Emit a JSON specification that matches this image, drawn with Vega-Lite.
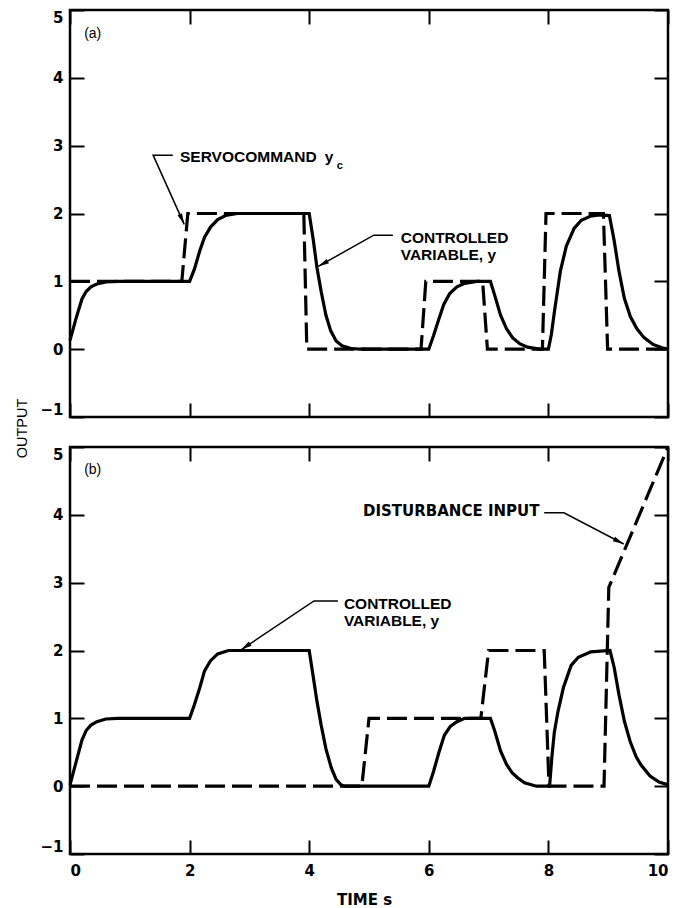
{
  "$schema": "https://vega.github.io/schema/vega-lite/v6.json",
  "background": "white",
  "padding": {"left": 12, "top": 7, "right": 10, "bottom": 5},
  "bounds": "flush",
  "spacing": 30,
  "config": {
    "font": "Liberation Sans",
    "view": {"stroke": "black", "strokeWidth": 2.5},
    "axis": {
      "domain": false, "grid": false,
      "tickColor": "black", "tickWidth": 2, "tickSize": -14,
      "labelColor": "black", "labelFont": "DejaVu Sans", "labelFontSize": 15, "labelFontWeight": "bold",
      "titleColor": "black", "titleFont": "Liberation Sans"
    }
  },
  "datasets": {
    "a_servo": [
      {"t": 0, "v": 1}, {"t": 1.87, "v": 1}, {"t": 1.97, "v": 2}, {"t": 3.91, "v": 2}, {"t": 3.96, "v": 0},
      {"t": 5.87, "v": 0}, {"t": 5.95, "v": 1}, {"t": 6.9, "v": 1}, {"t": 6.98, "v": 0},
      {"t": 7.9, "v": 0}, {"t": 7.96, "v": 2}, {"t": 8.92, "v": 2}, {"t": 8.99, "v": 0}, {"t": 10, "v": 0}
    ],
    "a_ctrl": [
      {"t": 0, "v": 0.13}, {"t": 0.1, "v": 0.45}, {"t": 0.2, "v": 0.74}, {"t": 0.27, "v": 0.85}, {"t": 0.35, "v": 0.92},
      {"t": 0.45, "v": 0.96}, {"t": 0.6, "v": 0.99}, {"t": 0.8, "v": 1.0}, {"t": 2.0, "v": 1.0},
      {"t": 2.08, "v": 1.18}, {"t": 2.17, "v": 1.45}, {"t": 2.25, "v": 1.65}, {"t": 2.35, "v": 1.8}, {"t": 2.47, "v": 1.91},
      {"t": 2.6, "v": 1.97}, {"t": 2.8, "v": 2.0}, {"t": 4.0, "v": 2.0},
      {"t": 4.07, "v": 1.6}, {"t": 4.13, "v": 1.2}, {"t": 4.2, "v": 0.85}, {"t": 4.28, "v": 0.5}, {"t": 4.36, "v": 0.27},
      {"t": 4.45, "v": 0.12}, {"t": 4.55, "v": 0.05}, {"t": 4.7, "v": 0.01}, {"t": 4.85, "v": 0}, {"t": 6.0, "v": 0},
      {"t": 6.08, "v": 0.2}, {"t": 6.17, "v": 0.45}, {"t": 6.25, "v": 0.66}, {"t": 6.35, "v": 0.82}, {"t": 6.47, "v": 0.92},
      {"t": 6.6, "v": 0.97}, {"t": 6.8, "v": 1.0}, {"t": 7.03, "v": 1.0},
      {"t": 7.1, "v": 0.8}, {"t": 7.2, "v": 0.5}, {"t": 7.3, "v": 0.3}, {"t": 7.4, "v": 0.17}, {"t": 7.52, "v": 0.08},
      {"t": 7.65, "v": 0.03}, {"t": 7.85, "v": 0}, {"t": 8.0, "v": 0},
      {"t": 8.05, "v": 0.22}, {"t": 8.1, "v": 0.55}, {"t": 8.2, "v": 1.15}, {"t": 8.3, "v": 1.52}, {"t": 8.43, "v": 1.78},
      {"t": 8.55, "v": 1.9}, {"t": 8.7, "v": 1.96}, {"t": 8.85, "v": 1.98}, {"t": 9.02, "v": 1.97},
      {"t": 9.1, "v": 1.6}, {"t": 9.18, "v": 1.15}, {"t": 9.27, "v": 0.75}, {"t": 9.37, "v": 0.48}, {"t": 9.48, "v": 0.3},
      {"t": 9.6, "v": 0.17}, {"t": 9.75, "v": 0.07}, {"t": 9.9, "v": 0.02}, {"t": 10, "v": 0}
    ],
    "b_ctrl": [
      {"t": 0, "v": 0.02}, {"t": 0.1, "v": 0.35}, {"t": 0.2, "v": 0.68}, {"t": 0.27, "v": 0.82}, {"t": 0.35, "v": 0.9},
      {"t": 0.45, "v": 0.95}, {"t": 0.6, "v": 0.99}, {"t": 0.8, "v": 1.0}, {"t": 2.0, "v": 1.0},
      {"t": 2.08, "v": 1.2}, {"t": 2.17, "v": 1.45}, {"t": 2.25, "v": 1.7}, {"t": 2.35, "v": 1.85}, {"t": 2.47, "v": 1.95},
      {"t": 2.65, "v": 2.0}, {"t": 4.0, "v": 2.0},
      {"t": 4.07, "v": 1.6}, {"t": 4.13, "v": 1.25}, {"t": 4.2, "v": 0.9}, {"t": 4.28, "v": 0.55}, {"t": 4.37, "v": 0.27},
      {"t": 4.45, "v": 0.1}, {"t": 4.53, "v": 0.02}, {"t": 4.6, "v": 0}, {"t": 6.0, "v": 0},
      {"t": 6.08, "v": 0.22}, {"t": 6.17, "v": 0.5}, {"t": 6.26, "v": 0.75}, {"t": 6.36, "v": 0.88}, {"t": 6.47, "v": 0.95},
      {"t": 6.6, "v": 1.0}, {"t": 7.03, "v": 1.0},
      {"t": 7.1, "v": 0.82}, {"t": 7.2, "v": 0.52}, {"t": 7.3, "v": 0.32}, {"t": 7.4, "v": 0.19}, {"t": 7.49, "v": 0.12},
      {"t": 7.6, "v": 0.05}, {"t": 7.8, "v": 0}, {"t": 8.02, "v": 0},
      {"t": 8.06, "v": 0.45}, {"t": 8.1, "v": 0.8}, {"t": 8.16, "v": 1.1}, {"t": 8.25, "v": 1.45}, {"t": 8.38, "v": 1.78},
      {"t": 8.5, "v": 1.9}, {"t": 8.71, "v": 1.98}, {"t": 9.03, "v": 2.0},
      {"t": 9.1, "v": 1.75}, {"t": 9.18, "v": 1.35}, {"t": 9.27, "v": 0.96}, {"t": 9.37, "v": 0.65}, {"t": 9.47, "v": 0.43},
      {"t": 9.55, "v": 0.31}, {"t": 9.7, "v": 0.15}, {"t": 9.85, "v": 0.06}, {"t": 10, "v": 0.02}
    ],
    "b_dist": [
      {"t": 0, "v": 0}, {"t": 4.88, "v": 0}, {"t": 5.0, "v": 1}, {"t": 6.87, "v": 1}, {"t": 7.0, "v": 2},
      {"t": 7.93, "v": 2}, {"t": 8.01, "v": 0}, {"t": 8.93, "v": 0}, {"t": 9.01, "v": 2.93}, {"t": 10, "v": 5.0}
    ],
    "a_lead": [
      {"id": "servo", "i": 0, "t": 1.72, "v": 2.86}, {"id": "servo", "i": 1, "t": 1.39, "v": 2.86}, {"id": "servo", "i": 2, "t": 1.91, "v": 1.84},
      {"id": "ctrl", "i": 0, "t": 5.4, "v": 1.68}, {"id": "ctrl", "i": 1, "t": 5.08, "v": 1.68}, {"id": "ctrl", "i": 2, "t": 4.15, "v": 1.22}
    ],
    "b_lead": [
      {"id": "ctrl", "i": 0, "t": 4.48, "v": 2.73}, {"id": "ctrl", "i": 1, "t": 4.08, "v": 2.73}, {"id": "ctrl", "i": 2, "t": 2.86, "v": 2.01},
      {"id": "dist", "i": 0, "t": 7.93, "v": 4.03}, {"id": "dist", "i": 1, "t": 8.26, "v": 4.03}, {"id": "dist", "i": 2, "t": 9.26, "v": 3.57}
    ],
    "a_text": [
      {"kind": "big", "t": 1.84, "v": 2.76, "label": "SERVOCOMMAND"},
      {"kind": "big", "t": 4.26, "v": 2.76, "label": "y"},
      {"kind": "sub", "t": 4.46, "v": 2.66, "label": "c"},
      {"kind": "big", "t": 5.53, "v": 1.56, "label": "CONTROLLED"},
      {"kind": "big", "t": 5.53, "v": 1.31, "label": "VARIABLE, y"},
      {"kind": "panel", "t": 0.38, "v": 4.65, "label": "(a)"}
    ],
    "b_text": [
      {"kind": "big", "t": 4.58, "v": 2.61, "label": "CONTROLLED"},
      {"kind": "big", "t": 4.58, "v": 2.36, "label": "VARIABLE, y"},
      {"kind": "wide", "t": 4.9, "v": 3.98, "label": "DISTURBANCE INPUT"},
      {"kind": "panel", "t": 0.38, "v": 4.66, "label": "(b)"}
    ]
  },
  "vconcat": [
    {
      "width": 598, "height": 407,
      "resolve": {"axis": {"x": "independent", "y": "independent"}},
      "layer": [
        {
          "data": {"name": "a_servo"},
          "mark": {"type": "line", "color": "black", "strokeWidth": 3.2, "strokeDash": [20, 7]},
          "encoding": {
            "x": {"field": "t", "type": "quantitative", "scale": {"domain": [0, 10], "nice": false},
                  "axis": {"orient": "bottom", "values": [0, 2, 4, 6, 8, 10], "labels": false, "title": null}},
            "y": {"field": "v", "type": "quantitative", "scale": {"domain": [-1, 5], "nice": false},
                  "axis": {"orient": "left", "values": [-1, 0, 1, 2, 3, 4, 5], "labelPadding": 21, "labelFlush": true,
                           "title": "OUTPUT", "titleAngle": 270, "titleX": -48, "titleY": 418,
                           "titleAlign": "center", "titleBaseline": "middle", "titleFontSize": 14.5, "titleFontWeight": "normal"}}
          }
        },
        {
          "data": {"name": "a_ctrl"},
          "mark": {"type": "line", "color": "black", "strokeWidth": 3.2},
          "encoding": {
            "x": {"field": "t", "type": "quantitative",
                  "axis": {"orient": "top", "values": [0, 2, 4, 6, 8, 10], "labels": false, "title": null}},
            "y": {"field": "v", "type": "quantitative",
                  "axis": {"orient": "right", "values": [-1, 0, 1, 2, 3, 4, 5], "labels": false, "title": null}}
          }
        },
        {
          "data": {"name": "a_lead"},
          "mark": {"type": "line", "color": "black", "strokeWidth": 1.5},
          "encoding": {
            "x": {"field": "t", "type": "quantitative", "axis": null},
            "y": {"field": "v", "type": "quantitative", "axis": null},
            "detail": {"field": "id"},
            "order": {"field": "i"}
          }
        },
        {
          "data": {"name": "a_lead"},
          "transform": [{"filter": "datum.id == 'servo' && datum.i == 2"}],
          "mark": {"type": "point", "shape": "M0,0L0.45,2L-0.45,2Z", "filled": true, "color": "black", "opacity": 1, "size": 121, "angle": 156},
          "encoding": {
            "x": {"field": "t", "type": "quantitative", "axis": null},
            "y": {"field": "v", "type": "quantitative", "axis": null}
          }
        },
        {
          "data": {"name": "a_lead"},
          "transform": [{"filter": "datum.id == 'ctrl' && datum.i == 2"}],
          "mark": {"type": "point", "shape": "M0,0L0.45,2L-0.45,2Z", "filled": true, "color": "black", "opacity": 1, "size": 121, "angle": 241},
          "encoding": {
            "x": {"field": "t", "type": "quantitative", "axis": null},
            "y": {"field": "v", "type": "quantitative", "axis": null}
          }
        },
        {
          "data": {"name": "a_text"},
          "transform": [{"filter": "datum.kind == 'big'"}],
          "mark": {"type": "text", "align": "left", "baseline": "alphabetic", "fontSize": 15.5, "fontWeight": "bold", "color": "black"},
          "encoding": {
            "x": {"field": "t", "type": "quantitative", "axis": null},
            "y": {"field": "v", "type": "quantitative", "axis": null},
            "text": {"field": "label"}
          }
        },
        {
          "data": {"name": "a_text"},
          "transform": [{"filter": "datum.kind == 'sub'"}],
          "mark": {"type": "text", "align": "left", "baseline": "alphabetic", "fontSize": 11, "fontWeight": "bold", "color": "black"},
          "encoding": {
            "x": {"field": "t", "type": "quantitative", "axis": null},
            "y": {"field": "v", "type": "quantitative", "axis": null},
            "text": {"field": "label"}
          }
        },
        {
          "data": {"name": "a_text"},
          "transform": [{"filter": "datum.kind == 'panel'"}],
          "mark": {"type": "text", "align": "center", "baseline": "middle", "fontSize": 14, "color": "black"},
          "encoding": {
            "x": {"field": "t", "type": "quantitative", "axis": null},
            "y": {"field": "v", "type": "quantitative", "axis": null},
            "text": {"field": "label"}
          }
        }
      ]
    },
    {
      "width": 598, "height": 407,
      "resolve": {"axis": {"x": "independent", "y": "independent"}},
      "layer": [
        {
          "data": {"name": "b_dist"},
          "mark": {"type": "line", "color": "black", "strokeWidth": 3.2, "strokeDash": [20, 7]},
          "encoding": {
            "x": {"field": "t", "type": "quantitative", "scale": {"domain": [0, 10], "nice": false},
                  "axis": {"orient": "bottom", "values": [0, 2, 4, 6, 8, 10], "labelPadding": 23, "labelFlush": true,
                           "title": "TIME s", "titleX": 294, "titleY": 45, "titleAlign": "center", "titleBaseline": "middle",
                           "titleFont": "DejaVu Sans", "titleFontSize": 15, "titleFontWeight": "bold"}},
            "y": {"field": "v", "type": "quantitative", "scale": {"domain": [-1, 5], "nice": false},
                  "axis": {"orient": "left", "values": [-1, 0, 1, 2, 3, 4, 5], "labelPadding": 21, "labelFlush": true, "title": null}}
          }
        },
        {
          "data": {"name": "b_ctrl"},
          "mark": {"type": "line", "color": "black", "strokeWidth": 3.2},
          "encoding": {
            "x": {"field": "t", "type": "quantitative",
                  "axis": {"orient": "top", "values": [0, 2, 4, 6, 8, 10], "labels": false, "title": null}},
            "y": {"field": "v", "type": "quantitative",
                  "axis": {"orient": "right", "values": [-1, 0, 1, 2, 3, 4, 5], "labels": false, "title": null}}
          }
        },
        {
          "data": {"name": "b_lead"},
          "mark": {"type": "line", "color": "black", "strokeWidth": 1.5},
          "encoding": {
            "x": {"field": "t", "type": "quantitative", "axis": null},
            "y": {"field": "v", "type": "quantitative", "axis": null},
            "detail": {"field": "id"},
            "order": {"field": "i"}
          }
        },
        {
          "data": {"name": "b_lead"},
          "transform": [{"filter": "datum.id == 'ctrl' && datum.i == 2"}],
          "mark": {"type": "point", "shape": "M0,0L0.45,2L-0.45,2Z", "filled": true, "color": "black", "opacity": 1, "size": 121, "angle": 236},
          "encoding": {
            "x": {"field": "t", "type": "quantitative", "axis": null},
            "y": {"field": "v", "type": "quantitative", "axis": null}
          }
        },
        {
          "data": {"name": "b_lead"},
          "transform": [{"filter": "datum.id == 'dist' && datum.i == 2"}],
          "mark": {"type": "point", "shape": "M0,0L0.45,2L-0.45,2Z", "filled": true, "color": "black", "opacity": 1, "size": 121, "angle": 117},
          "encoding": {
            "x": {"field": "t", "type": "quantitative", "axis": null},
            "y": {"field": "v", "type": "quantitative", "axis": null}
          }
        },
        {
          "data": {"name": "b_text"},
          "transform": [{"filter": "datum.kind == 'big'"}],
          "mark": {"type": "text", "align": "left", "baseline": "alphabetic", "fontSize": 15.5, "fontWeight": "bold", "color": "black"},
          "encoding": {
            "x": {"field": "t", "type": "quantitative", "axis": null},
            "y": {"field": "v", "type": "quantitative", "axis": null},
            "text": {"field": "label"}
          }
        },
        {
          "data": {"name": "b_text"},
          "transform": [{"filter": "datum.kind == 'wide'"}],
          "mark": {"type": "text", "align": "left", "baseline": "alphabetic", "font": "DejaVu Sans", "fontSize": 15, "fontWeight": "bold", "color": "black"},
          "encoding": {
            "x": {"field": "t", "type": "quantitative", "axis": null},
            "y": {"field": "v", "type": "quantitative", "axis": null},
            "text": {"field": "label"}
          }
        },
        {
          "data": {"name": "b_text"},
          "transform": [{"filter": "datum.kind == 'panel'"}],
          "mark": {"type": "text", "align": "center", "baseline": "middle", "fontSize": 14, "color": "black"},
          "encoding": {
            "x": {"field": "t", "type": "quantitative", "axis": null},
            "y": {"field": "v", "type": "quantitative", "axis": null},
            "text": {"field": "label"}
          }
        }
      ]
    }
  ]
}
